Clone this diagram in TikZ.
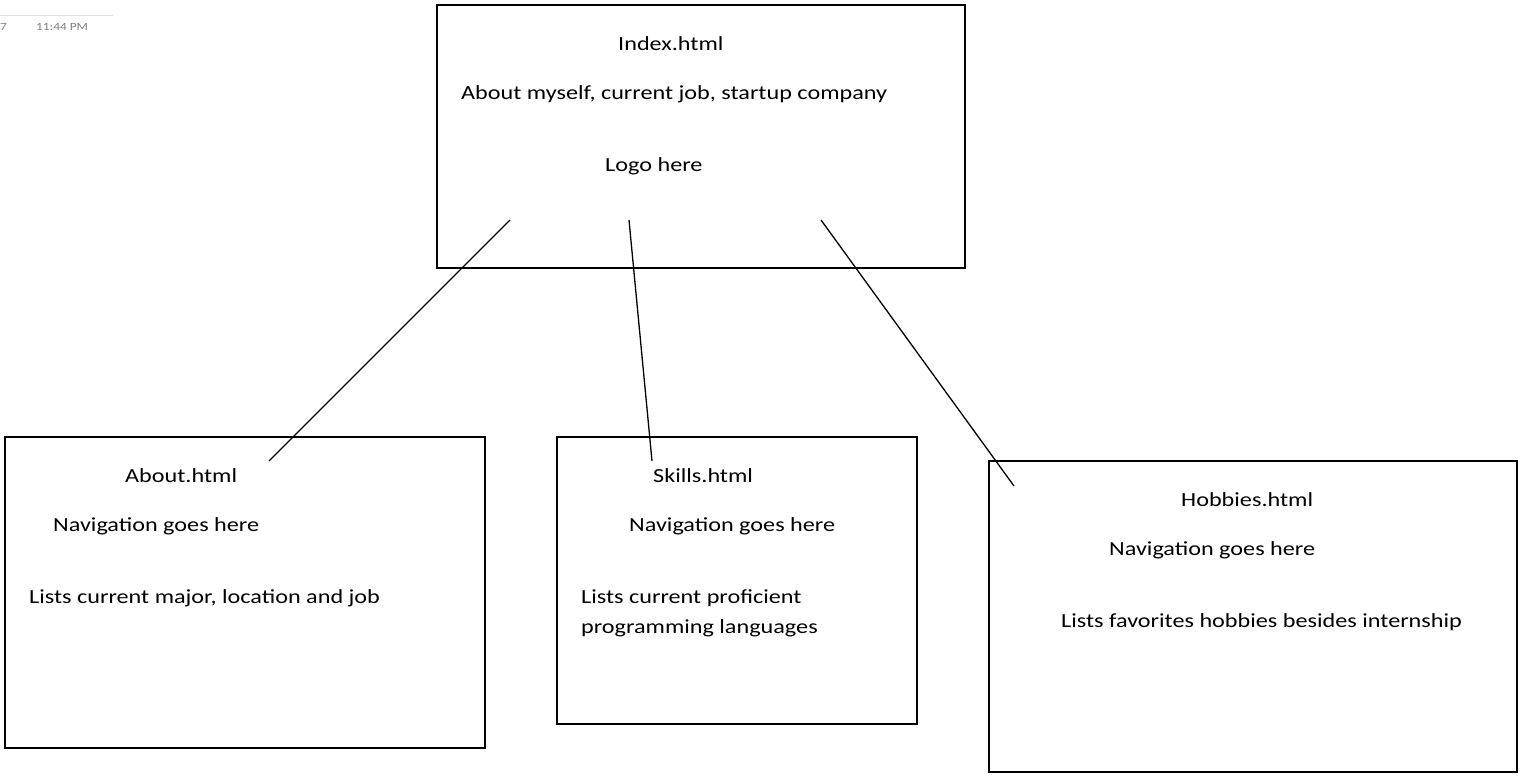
\documentclass[tikz,border=0pt]{standalone}
\usepackage{fontspec}
\setmainfont{Carlito}[FakeStretch=1.21]
\begin{document}
\begin{tikzpicture}[x=1pt,y=-1pt,
  box/.style={draw=black,line width=1.5pt},
  conn/.style={draw=black,line width=1.3pt},
  lbl/.style={anchor=base west,inner sep=0pt,font=\fontsize{20}{24}\selectfont},
  tiny/.style={anchor=base west,inner sep=0pt,text=gray,font=\fontsize{11}{13}\selectfont}]
\useasboundingbox[fill=white] (0,0) rectangle (1535,783);
% top-left fragment
\draw[gray!25,line width=1pt] (0,16) -- (113,16);
\node[tiny] (d) at (0,31) {7};
\node[tiny] (t) at (36,31) {11:44 PM};
% boxes
\path[box] (437,5) rectangle (965,268);
\path[box] (5,437) rectangle (485,748);
\path[box] (557,437) rectangle (917,724);
\path[box] (989,461) rectangle (1517,772);
% Index texts
\node[lbl] (i1) at (618,51) {Index.html};
\node[lbl] (i2) at (461,100) {About myself, current job, startup company};
\node[lbl] (i3) at (605,172) {Logo here};
% About
\node[lbl] (a1) at (125,483) {About.html};
\node[lbl] (a2) at (53,531) {Navigation goes here};
\node[lbl] (a3) at (29,603) {Lists current major, location and job};
% Skills
\node[lbl] (s1) at (653,483) {Skills.html};
\node[lbl] (s2) at (629,531) {Navigation goes here};
\node[lbl] (s3) at (581,603) {Lists current proficient};
\node[lbl] (s4) at (581,633) {programming languages};
% Hobbies
\node[lbl] (h1) at (1181,507) {Hobbies.html};
\node[lbl] (h2) at (1109,555) {Navigation goes here};
\node[lbl] (h3) at (1061,627) {Lists favorites hobbies besides internship};
% connectors
\coordinate (c1a) at (510,220); \coordinate (c1b) at (269,461);
\coordinate (c2a) at (629,220); \coordinate (c2b) at (652,461);
\coordinate (c3a) at (821,220); \coordinate (c3b) at (1014,486);
\draw[conn] (c1a) -- (c1b);
\draw[conn] (c2a) -- (c2b);
\draw[conn] (c3a) -- (c3b);
\end{tikzpicture}
\end{document}
